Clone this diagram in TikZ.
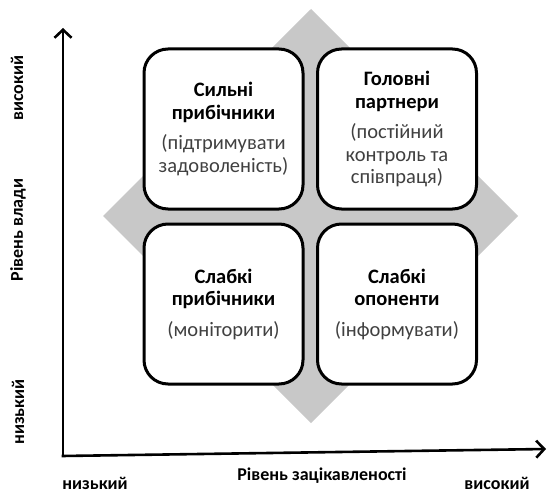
\documentclass[tikz,border=0pt]{standalone}
\usepackage{fontspec}
\setmainfont{Carlito}
\usetikzlibrary{arrows.meta}
\definecolor{diamondgray}{RGB}{200,200,200}
\definecolor{subtext}{RGB}{64,64,64}
\begin{document}
\begin{tikzpicture}[x=1pt,y=-1pt,
  box/.style={draw=black, line width=3pt, rounded corners=24pt, fill=white,
    minimum width=159pt, minimum height=160pt, inner sep=0pt, align=center,
    font=\fontsize{20.5}{22.5}\selectfont},
  axis/.style={line width=2.6pt, -{Straight Barb[length=8pt,width=17pt,line width=2.6pt]}},
  lab/.style={font=\bfseries\fontsize{18}{20}\selectfont, inner sep=0pt},
  sub/.style={color=subtext}
]
\useasboundingbox (0,0) rectangle (548,495);
% background diamond
\coordinate (dt) at (311,9);
\coordinate (dr) at (518,216);
\coordinate (db) at (311,423);
\coordinate (dl) at (103,216);
\fill[diamondgray] (dt) -- (dr) -- (db) -- (dl) -- cycle;
% axes
\coordinate (O) at (63,456);
\coordinate (ytop) at (63,28);
\coordinate (xend) at (546,449);
\draw[axis] (O) -- (ytop);
\draw[axis] ([xshift=-1.3pt]O) -- (xend);
% boxes
\node[box] (tl) at (223.5,129) {\textbf{Сильні}\\\textbf{прибічники}\\[8pt]{\color{subtext}(підтримувати}\\{\color{subtext}задоволеність)}};
\node[box] (tr) at (397,129) {\textbf{Головні}\\\textbf{партнери}\\[8pt]{\color{subtext}(постійний}\\{\color{subtext}контроль та}\\{\color{subtext}співпраця)}};
\node[box] (bl) at (223.5,304) {\textbf{Слабкі}\\\textbf{прибічники}\\[8pt]{\color{subtext}(моніторити)}};
\node[box] (br) at (397,304) {\textbf{Слабкі}\\\textbf{опоненти}\\[8pt]{\color{subtext}(інформувати)}};
% axis labels
\node[lab, rotate=90] (hiy) at (17,88) {високий};
\node[lab, rotate=90] (ylab) at (18,230) {Рівень влади};
\node[lab, rotate=90] (loy) at (18,412) {низький};
\node[lab] (lox) at (95,483) {низький};
\node[lab] (xlab) at (322,476) {Рівень зацікавленості};
\node[lab] (hix) at (497,483) {високий};
\end{tikzpicture}
\end{document}
